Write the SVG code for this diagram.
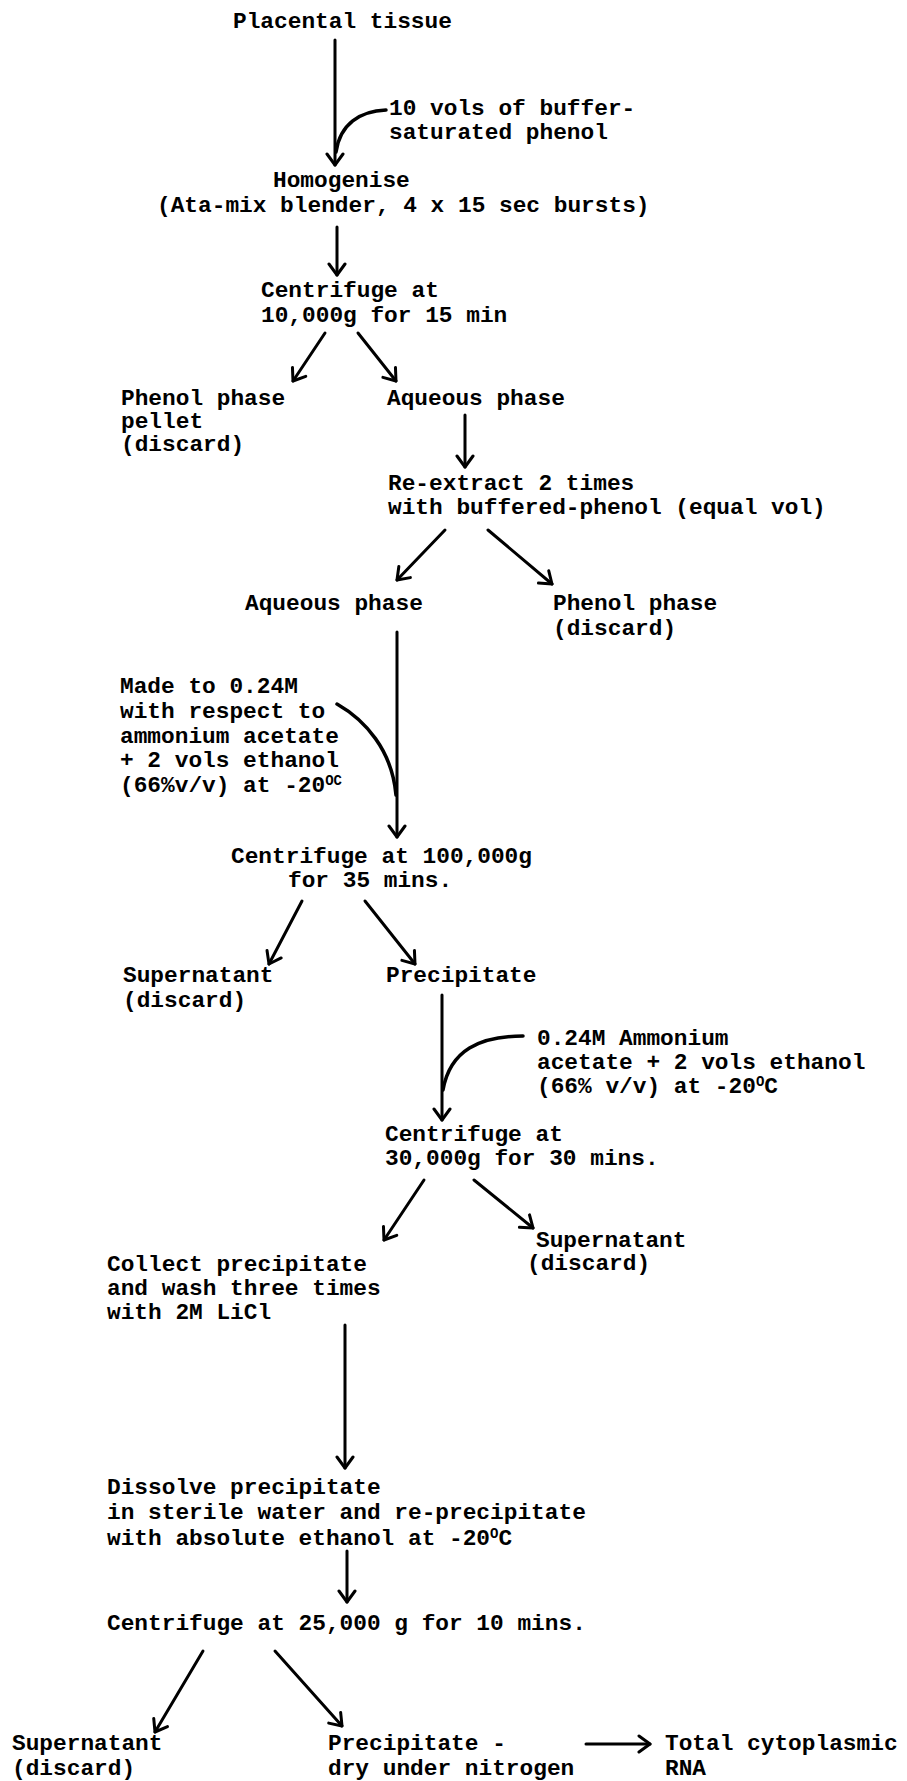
<svg xmlns="http://www.w3.org/2000/svg" width="907" height="1781" viewBox="0 0 907 1781">
<defs>
<style>
text{font-family:"Liberation Mono","Courier New",monospace;font-size:22.8px;font-weight:bold;fill:#000}
.sup{font-size:14px}
.c{stroke:#000;stroke-width:3;fill:none;stroke-linecap:round}
.cv{stroke:#000;stroke-width:3.5;fill:none;stroke-linecap:round}
</style>
<marker id="ah" viewBox="-14 -11 16 22" markerWidth="16" markerHeight="22" refX="0" refY="0" orient="auto" markerUnits="userSpaceOnUse">
<path d="M-11,-8 L0,0 L-11,8" fill="none" stroke="#000" stroke-width="3" stroke-linecap="round" stroke-linejoin="round"/>
</marker>
</defs>
<rect width="907" height="1781" fill="#fff"/>
<g id="connectors">
<path class="c" d="M335,40 L335,165" marker-end="url(#ah)"/>
<path class="cv" d="M386,110 C360,111 340,124 336,152"/>
<path class="c" d="M337,227 L337,275" marker-end="url(#ah)"/>
<path class="c" d="M325,333 L293,381" marker-end="url(#ah)"/>
<path class="c" d="M358,333 L396,381" marker-end="url(#ah)"/>
<path class="c" d="M465,415 L465,467" marker-end="url(#ah)"/>
<path class="c" d="M445,530 L397,580" marker-end="url(#ah)"/>
<path class="c" d="M488,530 L552,584" marker-end="url(#ah)"/>
<path class="c" d="M397,632 L397,837" marker-end="url(#ah)"/>
<path class="cv" d="M337,704 C365,720 392,750 396,795"/>
<path class="c" d="M302,901 L269,964" marker-end="url(#ah)"/>
<path class="c" d="M365,901 L415,964" marker-end="url(#ah)"/>
<path class="c" d="M442,995 L442,1120" marker-end="url(#ah)"/>
<path class="cv" d="M523,1036 C480,1036 450,1050 443,1090"/>
<path class="c" d="M424,1180 L384,1240" marker-end="url(#ah)"/>
<path class="c" d="M474,1180 L533,1228" marker-end="url(#ah)"/>
<path class="c" d="M345,1325 L345,1468" marker-end="url(#ah)"/>
<path class="c" d="M347,1551 L347,1602" marker-end="url(#ah)"/>
<path class="c" d="M203,1651 L155,1732" marker-end="url(#ah)"/>
<path class="c" d="M275,1651 L342,1726" marker-end="url(#ah)"/>
<path class="c" d="M586,1744 L650,1744" marker-end="url(#ah)"/>
</g>
<g id="n1"><text x="233" y="28">Placental tissue</text></g>
<g id="r1"><text x="389" y="115">10 vols of buffer-</text><text x="389" y="139">saturated phenol</text></g>
<g id="n2"><text x="273" y="187">Homogenise</text><text x="157" y="212">(Ata-mix blender, 4 x 15 sec bursts)</text></g>
<g id="n3"><text x="261" y="297">Centrifuge at</text><text x="261" y="322">10,000g for 15 min</text></g>
<g id="n4"><text x="121" y="405">Phenol phase</text><text x="121" y="428">pellet</text><text x="121" y="451">(discard)</text></g>
<g id="n5"><text x="387" y="405">Aqueous phase</text></g>
<g id="n6"><text x="388" y="490">Re-extract 2 times</text><text x="388" y="514">with buffered-phenol (equal vol)</text></g>
<g id="n7"><text x="245" y="610">Aqueous phase</text></g>
<g id="n8"><text x="553" y="610">Phenol phase</text><text x="553" y="635">(discard)</text></g>
<g id="r2"><text x="120" y="693">Made to 0.24M</text><text x="120" y="718">with respect to</text><text x="120" y="743">ammonium acetate</text><text x="120" y="767">+ 2 vols ethanol</text><text x="120" y="792">(66%v/v) at -20<tspan class="sup" dy="-7">OC</tspan></text></g>
<g id="n9"><text x="231" y="863">Centrifuge at 100,000g</text><text x="288" y="887">for 35 mins.</text></g>
<g id="n10"><text x="123" y="982">Supernatant</text><text x="123" y="1007">(discard)</text></g>
<g id="n11"><text x="386" y="982">Precipitate</text></g>
<g id="r3"><text x="537" y="1045">0.24M Ammonium</text><text x="537" y="1069">acetate + 2 vols ethanol</text><text x="537" y="1093">(66% v/v) at -20<tspan class="sup" dy="-7">O</tspan><tspan dy="7">C</tspan></text></g>
<g id="n12"><text x="385" y="1141">Centrifuge at</text><text x="385" y="1165">30,000g for 30 mins.</text></g>
<g id="n13"><text x="536" y="1247">Supernatant</text><text x="527" y="1270">(discard)</text></g>
<g id="n14"><text x="107" y="1271">Collect precipitate</text><text x="107" y="1295">and wash three times</text><text x="107" y="1319">with 2M LiCl</text></g>
<g id="n15"><text x="107" y="1494">Dissolve precipitate</text><text x="107" y="1519">in sterile water and re-precipitate</text><text x="107" y="1545">with absolute ethanol at -20<tspan class="sup" dy="-7">O</tspan><tspan dy="7">C</tspan></text></g>
<g id="n16"><text x="107" y="1630">Centrifuge at 25,000 g for 10 mins.</text></g>
<g id="n17"><text x="12" y="1750">Supernatant</text><text x="12" y="1775">(discard)</text></g>
<g id="n18"><text x="328" y="1750">Precipitate -</text><text x="328" y="1775">dry under nitrogen</text></g>
<g id="n19"><text x="665" y="1750">Total cytoplasmic</text><text x="665" y="1775">RNA</text></g>
</svg>
